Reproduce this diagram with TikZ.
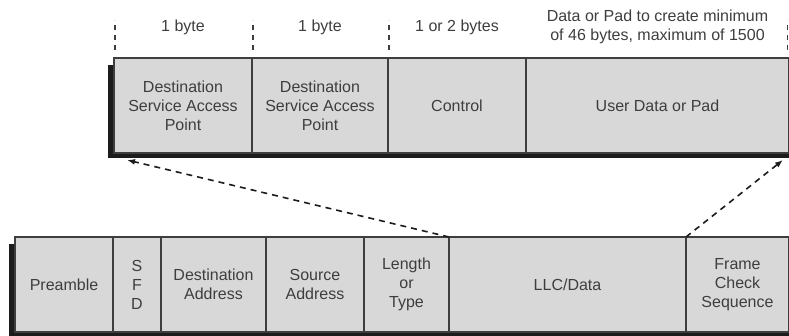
\documentclass[tikz,border=0pt]{standalone}
\usepackage{fontspec}
\setmainfont{Liberation Sans}
\usepackage{tikz}
\usetikzlibrary{positioning,arrows.meta,calc}
\definecolor{fieldgray}{RGB}{216, 216, 216}
\definecolor{inkgray}{RGB}{62, 62, 62}
\definecolor{shadowgray}{RGB}{28, 28, 28}

\begin{document}
\begin{tikzpicture}[
    x=1pt, y=1pt,
    node distance=0pt,
    field/.style={draw=inkgray, line width=1.1pt, fill=fieldgray, text=inkgray, align=center,
        minimum height=95pt, inner sep=0pt, outer sep=0pt, font=\fontsize{16}{19}\selectfont},
    size/.style={text=inkgray, align=center, inner sep=0pt, font=\fontsize{16}{19}\selectfont},
    tick/.style={draw=inkgray, line width=1.2pt, dash pattern=on 5pt off 5pt},
    link/.style={-{Latex[length=8pt, width=6pt]}, draw=shadowgray, line width=1.6pt,
        dash pattern=on 6pt off 5pt}
]
\useasboundingbox (0,0) rectangle (789,336);

% drop shadows under the two frames
\fill[shadowgray] (108,178) rectangle (789,271);
\fill[shadowgray] (9,0) rectangle (789,92);

% LLC header
\node[field, minimum width=138pt, anchor=south west] (dsap) at (114,183) {Destination\\Service Access\\Point};
\node[field, minimum width=136pt, right=of dsap] (ssap) {Destination\\Service Access\\Point};
\node[field, minimum width=138pt, right=of ssap] (ctrl) {Control};
\node[field, minimum width=263pt, right=of ctrl] (udata) {User Data or Pad};

% field sizes
\node[size] (dsapsize) at ($(dsap.north)+(0,31)$) {1 byte};
\node[size] (ssapsize) at ($(ssap.north)+(0,31)$) {1 byte};
\node[size] (ctrlsize) at ($(ctrl.north)+(0,31)$) {1 or 2 bytes};
\node[size] (udatasize) at ($(udata.north)+(0,31)$) {Data or Pad to create minimum\\of 46 bytes, maximum of 1500};
\foreach \n in {dsap.north west, ssap.north west, ctrl.north west}
    \draw[tick] ($(\n)+(1,8)$) -- ++(0,30);
\draw[tick] ($(udata.north east)+(-1.5,8)$) -- ++(0,30);

% Ethernet frame
\node[field, minimum width=98pt, anchor=south west] (pre) at (15,4) {Preamble};
\node[field, minimum width=48pt, right=of pre] (sfd) {S\\F\\D};
\node[field, minimum width=105pt, right=of sfd] (daddr) {Destination\\Address};
\node[field, minimum width=98pt, right=of daddr] (saddr) {Source\\Address};
\node[field, minimum width=85pt, right=of saddr] (ltype) {Length\\or\\Type};
\node[field, minimum width=237pt, right=of ltype] (llc) {LLC/Data};
\node[field, minimum width=103pt, right=of llc] (fcs) {Frame\\Check\\Sequence};

% the LLC/Data field opened up
\coordinate (dsapfoot) at ($(dsap.south west)+(13,-7)$);
\coordinate (udatafoot) at ($(udata.south east)+(-6,-7)$);
\draw[link] (llc.north west) -- (dsapfoot);
\draw[link] (fcs.north west) -- (udatafoot);
\end{tikzpicture}
\end{document}
